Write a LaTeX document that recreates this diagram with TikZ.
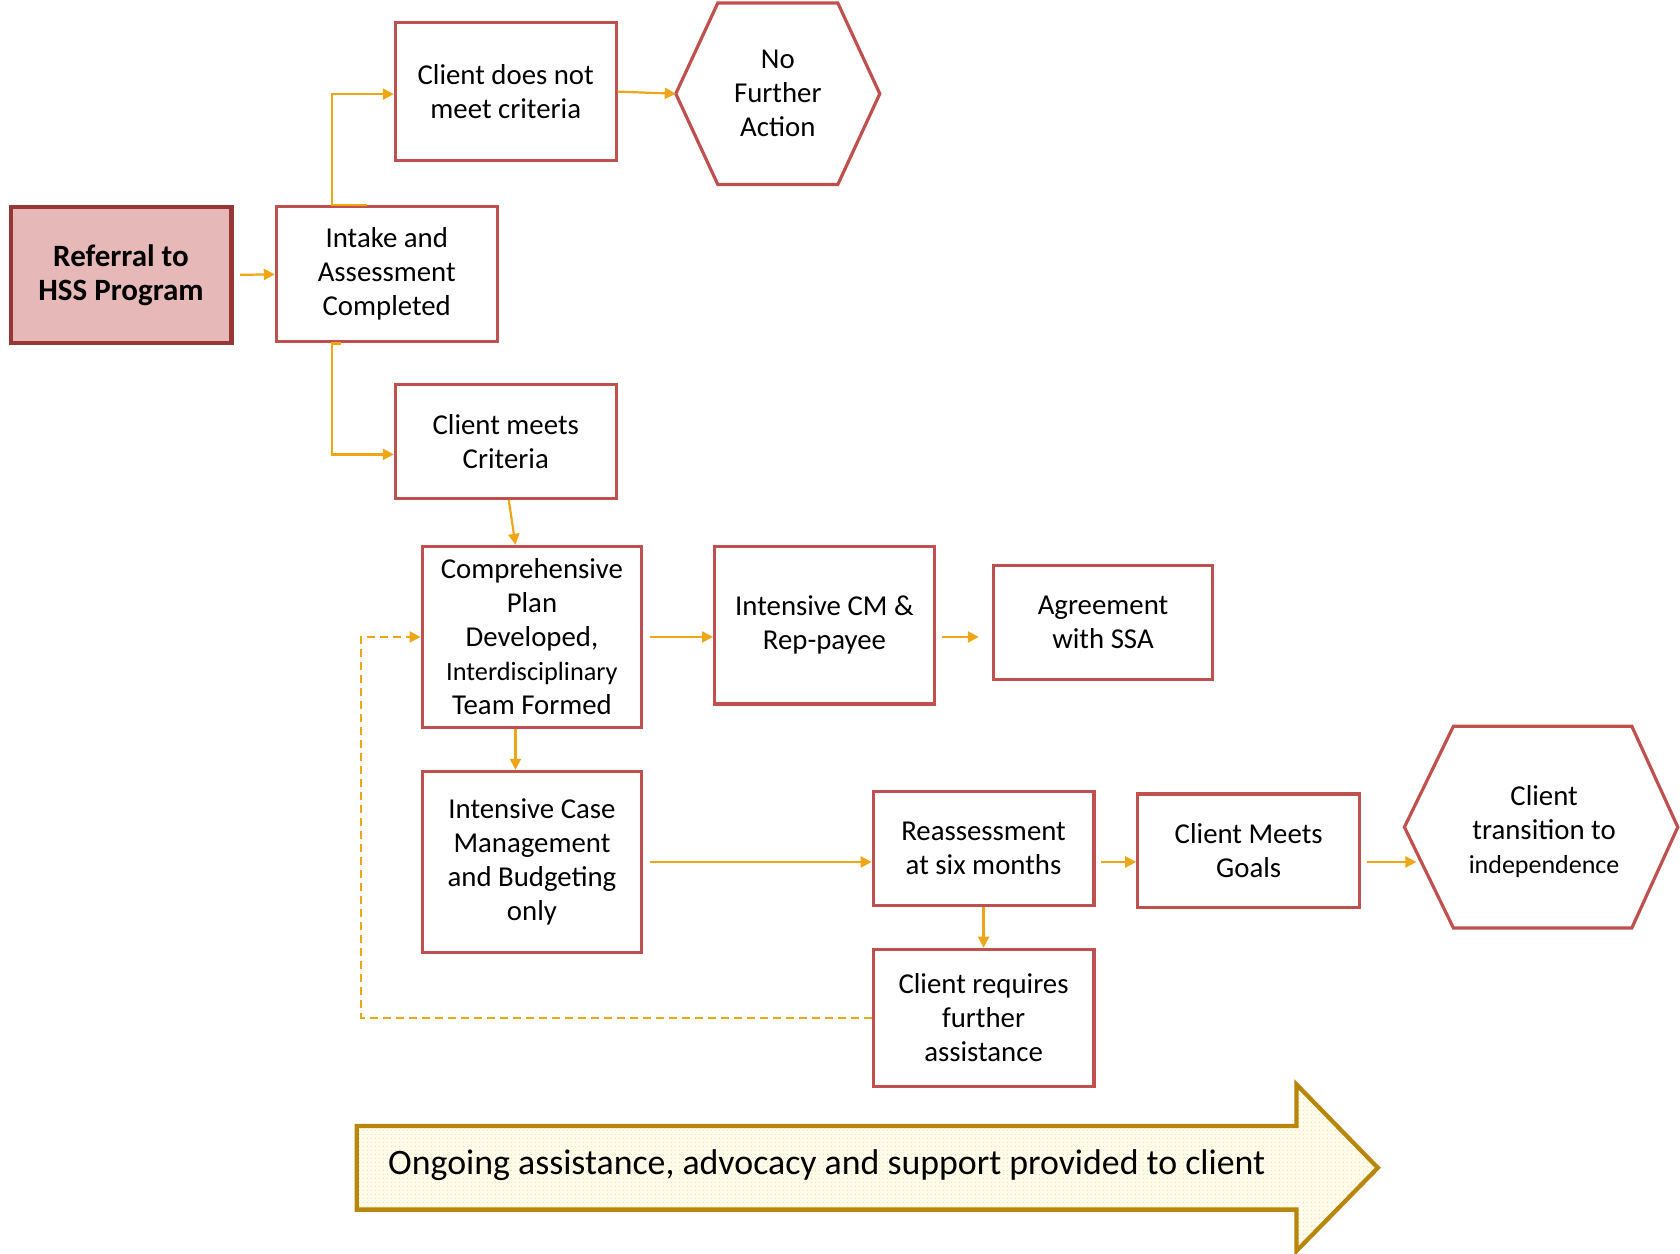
\documentclass[tikz,border=0pt]{standalone}
\usepackage{fontspec}
\setmainfont{Carlito}
\usetikzlibrary{arrows.meta,calc,patterns.meta}
\definecolor{boxred}{HTML}{C0504D}
\definecolor{refred}{HTML}{953735}
\definecolor{reffill}{HTML}{E6B9B8}
\definecolor{lineorange}{HTML}{EEA614}
\definecolor{goldline}{HTML}{B8860B}
\definecolor{cream}{HTML}{FFFCEB}
\definecolor{dotcol}{HTML}{F0CD70}
\begin{document}
\begin{tikzpicture}[x=1pt,y=-1pt,
  txt/.style={font=\fontsize{28.8}{34}\selectfont, text=black, align=center},
  box/.style={txt, draw=boxred, line width=3.2pt, fill=white, inner sep=0pt},
  hexbox/.style={txt, inner sep=0pt},
  hexline/.style={draw=boxred, line width=3.2pt},
  conn/.style={draw=lineorange, line width=2.2pt, -{Triangle[length=11pt,width=11pt]}},
  dconn/.style={conn, dash pattern=on 8pt off 5pt}
]
\useasboundingbox (0,0) rectangle (1680,1253);

% boxes
\node[box, draw=refred, line width=4.2pt, fill=reffill, font=\bfseries\fontsize{31}{34}\selectfont,
      minimum width=220.7pt, minimum height=136.1pt] (ref) at (121.05,274.85) {Referral to\\HSS Program};
\node[box, minimum width=220.7pt, minimum height=135pt] (intake) at (386.75,274.3) {Intake and\\Assessment\\Completed};
\node[box, minimum width=220.7pt, minimum height=138.2pt] (cdn) at (505.75,91.6) {Client does not\\meet criteria};
\node[box, minimum width=220.7pt, minimum height=113.6pt] (cmc) at (505.75,441.4) {Client meets\\Criteria};
\node[box, minimum width=219.7pt, minimum height=181.1pt] (cpd) at (531.95,636.95)
  {Comprehensive\\Plan\\Developed,\\{\fontsize{26.3}{31}\selectfont Interdisciplinary}\\Team Formed};
\node[box, minimum width=219.7pt, minimum height=157.5pt] (icm) at (824.45,625.15) {Intensive CM \&\\Rep-payee};
\node[box, minimum width=219.6pt, minimum height=113.6pt] (agr) at (1103,622.5) {Agreement\\with SSA};
\node[box, minimum width=219.7pt, minimum height=181.1pt] (ice) at (531.95,861.95)
  {Intensive Case\\Management\\and Budgeting\\only};
\node[box, minimum width=220.7pt, minimum height=113.5pt] (rea) at (983.55,848.55) {Reassessment\\at six months};
\node[box, minimum width=221.8pt, minimum height=113.6pt] (cmg) at (1248.7,850.7) {Client Meets\\Goals};
\node[box, minimum width=220.7pt, minimum height=137.1pt] (crf) at (983.55,1017.85) {Client requires\\further\\assistance};

% hexagons
\node[hexbox, minimum width=203.6pt, minimum height=181.1pt] (nfa) at (777.8,93.75) {No\\Further\\Action};
\draw[hexline] (nfa.west) -- ([xshift=42pt]nfa.north west) -- ([xshift=-42pt]nfa.north east)
  -- (nfa.east) -- ([xshift=-42pt]nfa.south east) -- ([xshift=42pt]nfa.south west) -- cycle;
\node[minimum width=273pt, minimum height=201.4pt, inner sep=0pt] (ctt) at (1541.1,827.1) {};
\node[hexbox] (ctttext) at ([xshift=3pt,yshift=-4pt]ctt.center)
  {Client\\transition to\\{\fontsize{26}{31}\selectfont independence}};
\draw[hexline] (ctt.west) -- ([xshift=49pt]ctt.north west) -- ([xshift=-46pt]ctt.north east)
  -- (ctt.east) -- ([xshift=-46pt]ctt.south east) -- ([xshift=49pt]ctt.south west) -- cycle;

% connectors
\draw[conn] ([xshift=6.5pt]ref.east) -- (intake.west);
\draw[conn] ([xshift=92pt]intake.north west) -- ([xshift=57pt]intake.north west) |- ([yshift=-2.5pt]cdn.west);
\draw[conn] ([xshift=66pt]intake.south west) -- ([xshift=57pt]intake.south west) |- ([yshift=-13pt]cmc.west);
\draw[conn] (cdn.east) -- (nfa.west);
\draw[conn] ([xshift=3pt]cmc.south) -- ([xshift=-16.5pt]cpd.north);
\draw[conn] ([xshift=6.4pt]cpd.east) -- (cpd.east -| icm.west);
\draw[conn] ([xshift=6.4pt]icm.east |- cpd.east) -- ([xshift=-12.8pt]agr.west |- cpd.east);
\draw[conn] ([xshift=-16.5pt]cpd.south) -- ([xshift=-16.5pt]ice.north);
\draw[conn] ([xshift=6.4pt]ice.east) -- (ice.east -| rea.west);
\draw[conn] ([xshift=5.4pt]rea.east |- ice.east) -- (cmg.west |- ice.east);
\draw[conn] ([xshift=5.4pt]cmg.east |- ice.east) -- ([xshift=12pt]ctt.west |- ice.east);
\draw[conn] (rea.south) -- (crf.north);
\coordinate (dl) at (361,1018);
\draw[dconn] (crf.west) -- (crf.west -| dl) |- (cpd.west);

% bottom arrow
\draw[draw=goldline, line width=4.3pt, preaction={fill=cream},
      pattern={Dots[distance=4pt,radius=0.55pt]}, pattern color=dotcol]
  (356.8,1126) -- (1296.4,1126) -- (1296.4,1084.3) -- (1377.8,1167.8)
  -- (1296.4,1251) -- (1296.4,1209.6) -- (356.8,1209.6) -- cycle;
\node[anchor=west, inner sep=0pt, font=\fontsize{35.8}{40}\selectfont] (ongoing) at (388,1165)
  {Ongoing assistance, advocacy and support provided to client};
\end{tikzpicture}
\end{document}
